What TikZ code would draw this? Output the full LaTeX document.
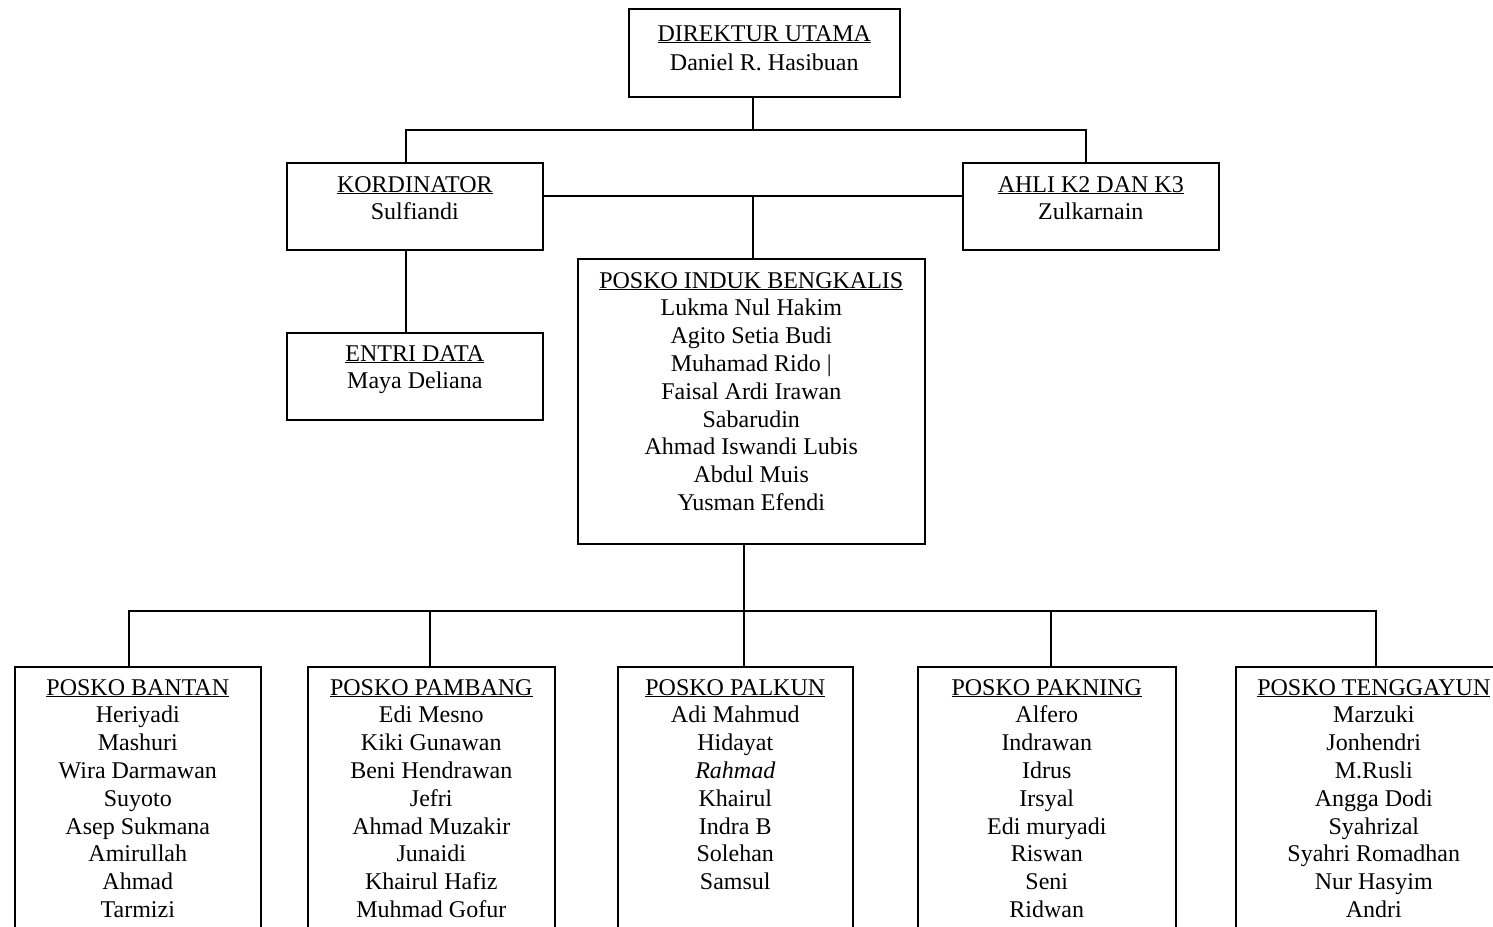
\documentclass[tikz,border=0pt]{standalone}
\usepackage{fontspec}
\setmainfont{Liberation Serif}
\usetikzlibrary{calc}
\tikzset{
  orgbox/.style={draw=black, line width=1.6pt, rectangle, inner sep=0pt, anchor=north west},
  orgtext/.style={inner sep=0pt, anchor=base, font=\fontsize{24}{27.8}\selectfont},
  link/.style={draw=black, line width=1.6pt},
}
\newcommand{\orglines}[1]{\begin{tabular}[t]{@{}c@{}}#1\end{tabular}}
\begin{document}
\begin{tikzpicture}[x=1pt,y=-1pt]
\useasboundingbox (0,0) rectangle (1493,926);
\clip (0,0) rectangle (1493,926);
% boxes
\node[orgbox, minimum width=271pt, minimum height=88pt] (dir) at (628,8) {};
\node[orgbox, minimum width=256pt, minimum height=87pt] (kord) at (286,162) {};
\node[orgbox, minimum width=256pt, minimum height=87pt] (ahli) at (962,162) {};
\node[orgbox, minimum width=347pt, minimum height=285pt] (induk) at (577,258) {};
\node[orgbox, minimum width=256pt, minimum height=87pt] (entri) at (286,332) {};
\node[orgbox, minimum width=246pt, minimum height=300pt] (bantan) at (14,666) {};
\node[orgbox, minimum width=247pt, minimum height=300pt] (pambang) at (307,666) {};
\node[orgbox, minimum width=235pt, minimum height=300pt] (palkun) at (617,666) {};
\node[orgbox, minimum width=258pt, minimum height=300pt] (pakning) at (917,666) {};
\node[orgbox, minimum width=276pt, minimum height=300pt] (tenggayun) at (1235,666) {};
% texts
\node[orgtext] (dirT) at ([yshift=-33pt]dir.north) {\orglines{\underline{DIREKTUR UTAMA}\\[1.5pt] Daniel R. Hasibuan}};
\node[orgtext] (kordT) at ([yshift=-30pt]kord.north) {\orglines{\underline{KORDINATOR}\\ Sulfiandi}};
\node[orgtext] (ahliT) at ([yshift=-30pt]ahli.north) {\orglines{\underline{AHLI K2 DAN K3}\\ Zulkarnain}};
\node[orgtext] (entriT) at ([yshift=-29pt]entri.north) {\orglines{\underline{ENTRI DATA}\\ Maya Deliana}};
\node[orgtext] (indukT) at ([yshift=-30pt]induk.north) {\orglines{\underline{POSKO INDUK BENGKALIS}\\ Lukma Nul Hakim\\ Agito Setia Budi\\ Muhamad Rido |\\ Faisal Ardi Irawan\\ Sabarudin\\ Ahmad Iswandi Lubis\\ Abdul Muis\\ Yusman Efendi}};
\node[orgtext] (bantanT) at ([yshift=-29pt]bantan.north) {\orglines{\underline{POSKO BANTAN}\\ Heriyadi\\ Mashuri\\ Wira Darmawan\\ Suyoto\\ Asep Sukmana\\ Amirullah\\ Ahmad\\ Tarmizi}};
\node[orgtext] (pambangT) at ([yshift=-29pt]pambang.north) {\orglines{\underline{POSKO PAMBANG}\\ Edi Mesno\\ Kiki Gunawan\\ Beni Hendrawan\\ Jefri\\ Ahmad Muzakir\\ Junaidi\\ Khairul Hafiz\\ Muhmad Gofur}};
\node[orgtext] (palkunT) at ([yshift=-29pt]palkun.north) {\orglines{\underline{POSKO PALKUN}\\ Adi Mahmud\\ Hidayat\\ \textit{Rahmad}\\ Khairul\\ Indra B\\ Solehan\\ Samsul}};
\node[orgtext] (pakningT) at ([yshift=-29pt]pakning.north) {\orglines{\underline{POSKO PAKNING}\\ Alfero\\ Indrawan\\ Idrus\\ Irsyal\\ Edi muryadi\\ Riswan\\ Seni\\ Ridwan}};
\node[orgtext] (tenggayunT) at ([yshift=-29pt]tenggayun.north) {\orglines{\underline{POSKO TENGGAYUN}\\ Marzuki\\ Jonhendri\\ M.Rusli\\ Angga Dodi\\ Syahrizal\\ Syahri Romadhan\\ Nur Hasyim\\ Andri}};
% junctions
\coordinate (topj) at (753,130);
\coordinate (kordj) at (406,130);
\coordinate (ahlij) at (1086,130);
\coordinate (midj) at (753,196);
\coordinate (lowj) at (744,611);
\coordinate (pb1) at (129,611);
\coordinate (pb2) at (430,611);
\coordinate (pb4) at (1051,611);
\coordinate (pb5) at (1376,611);
% connectors
\draw[link] (dir.south -| topj) -- (topj);
\draw[link] (kord.north -| kordj) -- (kordj) -- (ahlij) -- (ahli.north -| ahlij);
\draw[link] (kord.east |- midj) -- (ahli.west |- midj);
\draw[link] (midj) -- (induk.north -| midj);
\draw[link] (kord.south -| kordj) -- (entri.north -| kordj);
\draw[link] (induk.south -| lowj) -- (palkun.north -| lowj);
\draw[link] (bantan.north -| pb1) -- (pb1) -- (pb5) -- (tenggayun.north -| pb5);
\draw[link] (pb2) -- (pambang.north -| pb2);
\draw[link] (pb4) -- (pakning.north -| pb4);
\end{tikzpicture}
\end{document}
